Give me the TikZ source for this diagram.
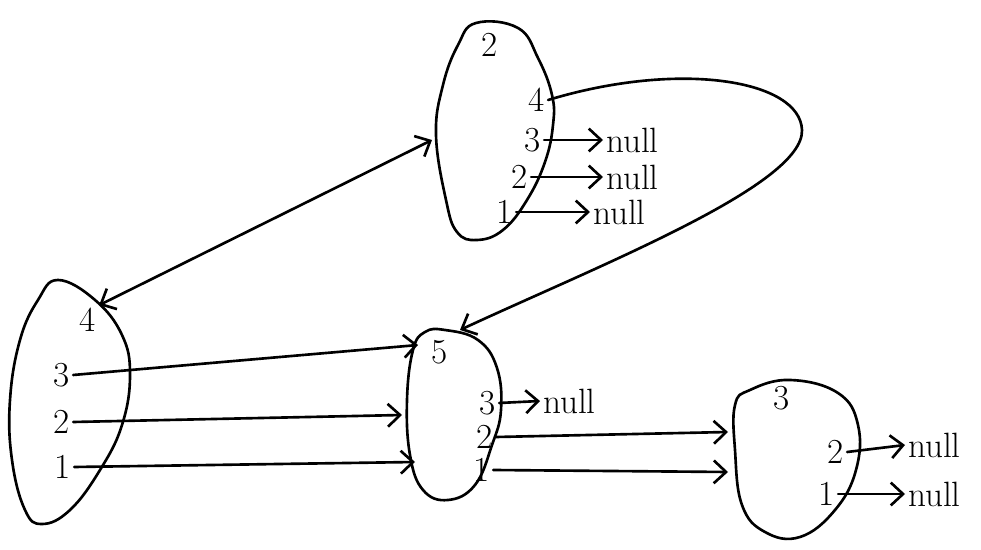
\documentclass[tikz,border=0pt]{standalone}
\usetikzlibrary{arrows.meta}
\begin{document}
\begin{tikzpicture}[x=0.02cm,y=-0.02cm,>={Straight Barb[length=7pt,width=13pt]},
  line width=1.5pt,line cap=round,line join=round,
  font=\fontsize{20}{24}\selectfont,
  lbl/.style={inner sep=1pt},
  nul/.style={anchor=west,inner sep=1pt}]
  \useasboundingbox (0,0) rectangle (981,550);

  % 四个节点的轮廓
  \draw plot[smooth cycle,tension=0.7] coordinates {(58,280) (95,300) (122,335) (130,375)
    (122,425) (100,470) (70,510) (42,524) (25,510) (12,460) (10,400) (20,340) (38,300)};
  \draw plot[smooth cycle,tension=0.7] coordinates {(476,23) (518,28) (538,58) (552,95)
    (553,125) (545,162) (527,200) (503,230) (477,240) (457,232) (446,200) (436,135)
    (443,85) (458,45)};
  \draw plot[smooth cycle,tension=0.7] coordinates {(445,330) (478,340) (497,368) (501,410)
    (492,445) (475,485) (448,500) (423,490) (410,455) (407,400) (413,350) (425,332)};
  \draw plot[smooth cycle,tension=0.7] coordinates {(790,380) (838,393) (858,425) (856,470)
    (835,510) (800,537) (765,532) (742,505) (735,450) (735,405) (750,390)};

  % 层号与键值
  \node[lbl] (ha4) at (88,320) {4};
  \node[lbl] (ha3) at (62,375) {3};
  \node[lbl] (ha2) at (62,422) {2};
  \node[lbl] (ha1) at (63,467) {1};

  \node[lbl] (kb) at (490,45) {2};
  \node[lbl] (b4) at (537,100) {4};
  \node[lbl] (b3) at (533,140) {3};
  \node[lbl] (b2) at (520,177) {2};
  \node[lbl] (b1) at (505,212) {1};

  \node[lbl] (kc) at (440,352) {5};
  \node[lbl] (c3) at (488,403) {3};
  \node[lbl] (c2) at (485,437) {2};
  \node[lbl] (c1) at (482,470) {1};

  \node[lbl] (kd) at (782,398) {3};
  \node[lbl] (d2) at (836,452) {2};
  \node[lbl] (d1) at (827,494) {1};

  % 空指针
  \node[nul] (nb3) at (603,140) {null};
  \node[nul] (nb2) at (603,177) {null};
  \node[nul] (nb1) at (590,212) {null};
  \node[nul] (nc3) at (540,401) {null};
  \node[nul] (nd2) at (905,445) {null};
  \node[nul] (nd1) at (905,494) {null};

  % 箭头落点
  \coordinate (inB) at (432,140);
  \coordinate (topC) at (460,330);
  \coordinate (inC3) at (418,345);
  \coordinate (inC2) at (402,415);
  \coordinate (inC1) at (415,462);
  \coordinate (inD2) at (728,432);
  \coordinate (inD1) at (728,472);

  % 指针
  \draw[<->] (ha4.north east) -- (inB);
  \draw[->] (ha3.east) -- (inC3);
  \draw[->] (ha2.east) -- (inC2);
  \draw[->] (ha1.east) -- (inC1);

  \draw[->] (b4.east) .. controls (680,60) and (800,80) .. (802,130)
    .. controls (804,185) and (600,265) .. (topC);
  \draw[->] (b3.east) -- (nb3.west);
  \draw[->] (b2.east) -- (nb2.west);
  \draw[->] (b1.east) -- (nb1.west);

  \draw[->] (c3.east) -- (nc3.west);
  \draw[->] (c2.east) -- (inD2);
  \draw[->] (c1.east) -- (inD1);

  \draw[->] (d2.east) -- (nd2.west);
  \draw[->] (d1.east) -- (nd1.west);
\end{tikzpicture}
\end{document}
